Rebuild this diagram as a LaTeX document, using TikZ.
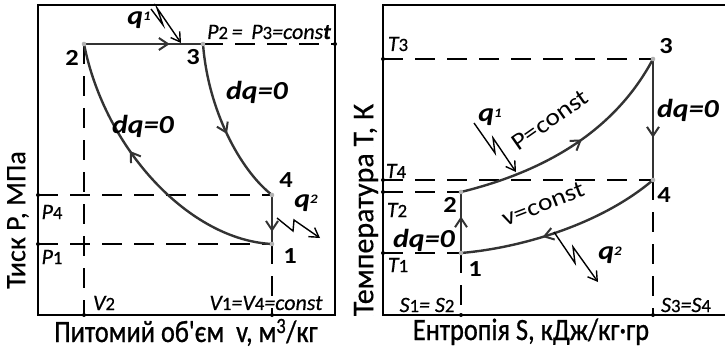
\documentclass[tikz,border=0pt]{standalone}
\usepackage{fontspec}
\setmainfont{Carlito}[FakeBold=0.5]
\newfontfamily\axisfont{Carlito}[FakeStretch=0.85,FakeBold=0.8]
\newfontfamily\widefont{Carlito}[FakeStretch=1.15]
\usetikzlibrary{arrows.meta,decorations.markings}
\newcommand\lowidx[1]{\scalebox{0.85}{\upshape #1}}
\newcommand\qidx[1]{\raisebox{0.15em}{\scalebox{0.5}{\itshape #1}}}

\begin{document}
\begin{tikzpicture}[x=1pt,y=-1pt,
  frame/.style={line width=1.6pt},
  guide/.style={line width=1.5pt,dash pattern=on 20pt off 12pt},
  proc/.style={line width=2.4pt,draw=black!80},
  flow/.style={postaction={decorate},decoration={markings,
      mark=at position #1 with {\arrow{Straight Barb[length=9pt,width=12pt,line width=2pt]}}}},
  heat/.style={line width=1.4pt,-{Straight Barb[length=9pt,width=11pt]}},
  num/.style={font=\widefont\bfseries\fontsize{23}{23}\selectfont},
  lbl/.style={font=\itshape\fontsize{22}{22}\selectfont},
  dq/.style={font=\widefont\bfseries\itshape\fontsize{26}{26}\selectfont},
  curvelbl/.style={font=\widefont\fontsize{24}{24}\selectfont},
  axis/.style={font=\fontsize{28}{28}\selectfont},
  xaxis/.style={font=\axisfont\fontsize{31}{31}\selectfont,anchor=base},
]
\useasboundingbox (0,0) rectangle (725,351);

% p-v diagram
\coordinate (s1) at (272,244);
\coordinate (s2) at (84,44);
\coordinate (s3) at (203,44);
\coordinate (s4) at (272,195);
\coordinate (pax4) at (38,195);
\coordinate (pax1) at (38,244);
\coordinate (vax2) at (84,315);
\coordinate (vax1) at (272,315);
\coordinate (pend) at (335,44);
\draw[frame] (38,5) rectangle (335,315);
\draw[guide] (pax4) -- (s4);
\draw[guide] (pax1) -- (s1);
\draw[guide] (s2) -- (vax2);
\draw[guide] (s1) -- (vax1);
\draw[guide] (s3) -- (pend);
\draw[proc,flow=0.72] (s2) -- (s3);
\draw[proc,flow=0.55] (s3) .. controls (208,110) and (240,170) .. (s4);
\draw[proc,flow=0.75] (s4) -- (s1);
\draw[proc,flow=0.6] (s1) .. controls (190,240) and (105,150) .. (s2);
\coordinate (q1a) at (151,9);
\coordinate (q1b) at (181,43);
\draw[heat] (q1a) -- (163,25) -- (157,8) -- (q1b);
\coordinate (q2a) at (277,218);
\coordinate (q2b) at (320,238);
\draw[heat] (q2a) -- (293,231) -- (294,220) -- (q2b);

\node[num] (n2) at (72,58) {2};
\node[num] (n3) at (193,57) {3};
\node[num] (n4) at (286,180) {4};
\node[num] (n1) at (290,256) {1};
\node[dq] (dq21) at (143,126) {dq=0};
\node[dq] (dq34) at (257,92) {dq=0};
\node[dq] (q1) at (139,20) {q\qidx{1}};
\node[dq] (q2) at (306,203) {q\qidx{2}};
\node[lbl] (pconst) at (269,32) {P\lowidx{2}\,=\, P\lowidx{3}=cons\textbf{t}};
\node[lbl] (p4) at (52,212) {P\lowidx{4}};
\node[lbl] (p1) at (52,257) {P\lowidx{1}};
\node[lbl] (v2) at (104,303) {V\lowidx{2}};
\node[lbl] (vconst) at (266,303) {V\lowidx{1}=V\lowidx{4}=const};
\node[axis,rotate=90] (pax) at (18,220) {Тиск Р, МПа};
\node[xaxis] (vax) at (186,342) {Питомий об'єм\ \ v, м\textsuperscript{3}/кг};

% T-s diagram
\coordinate (t1) at (461,253);
\coordinate (t2) at (461,192);
\coordinate (t3) at (653,59);
\coordinate (t4) at (653,180);
\coordinate (tax3) at (383,59);
\coordinate (tax4) at (383,180);
\coordinate (tax2) at (383,192);
\coordinate (tax1) at (383,253);
\coordinate (sax1) at (461,315);
\coordinate (sax3) at (653,315);
\draw[frame] (725,5) -- (383,5) -- (383,315) -- (725,315);
\draw[guide] (tax3) -- (t3);
\draw[guide] (tax4) -- (t4);
\draw[guide] (tax2) -- (t2);
\draw[guide] (tax1) -- (t1);
\draw[guide] (t1) -- (sax1);
\draw[guide] (t4) -- (sax3);
\draw[proc,flow=0.55] (t2) .. controls (530,175) and (610,140) .. (t3);
\draw[proc,flow=0.65] (t3) -- (t4);
\draw[proc,flow=0.6] (t4) .. controls (600,225) and (520,248) .. (t1);
\draw[proc,flow=0.6] (t1) -- (t2);
\coordinate (q3a) at (474,123);
\coordinate (q3b) at (516,172);
\draw[heat] (q3a) -- (495,153) -- (493,138) -- (q3b);
\coordinate (q4a) at (554,232);
\coordinate (q4b) at (598,282);
\draw[heat] (q4a) -- (575,263) -- (573,247) -- (q4b);

\node[num] (m3) at (666,46) {3};
\node[num] (m4) at (664,195) {4};
\node[num] (m2) at (450,205) {2};
\node[num] (m1) at (475,269) {1};
\node[dq] (dq34b) at (688,110) {dq=0};
\node[dq] (dq12b) at (424,240) {dq=0};
\node[dq] (q1b) at (490,117) {q\qidx{1}};
\node[dq] (q2b) at (610,255) {q\qidx{2}};
\node[curvelbl,rotate=35] (isobar) at (550,120) {P=const};
\node[curvelbl,rotate=21] (isochor) at (543,204) {v=const};
\node[lbl] (T3) at (398,44) {T\lowidx{3}};
\node[lbl] (T4) at (396,171) {T\lowidx{4}};
\node[lbl] (T2) at (397,210) {T\lowidx{2}};
\node[lbl] (T1) at (398,265) {T\lowidx{1}};
\node[lbl] (s12) at (427,305) {S\lowidx{1}= S\lowidx{2}};
\node[lbl] (s34) at (686,305) {S\lowidx{3}=S\lowidx{4}};
\node[axis,rotate=90,font=\fontsize{30}{30}\selectfont] (tax) at (366,210) {Температура Т, К};
\node[xaxis] (sax) at (531,340) {Ентропія S, кДж/кг·гр};

% points
\foreach \p in {s1,s2,s3,s4,t1,t2,t3,t4}
  \fill[gray!60] (\p) circle (2.3pt);
\foreach \p in {pax4,pax1,vax2,vax1,pend,tax3,tax4,tax2,tax1,sax1,sax3}
  \fill (\p) circle (2pt);
\end{tikzpicture}
\end{document}
